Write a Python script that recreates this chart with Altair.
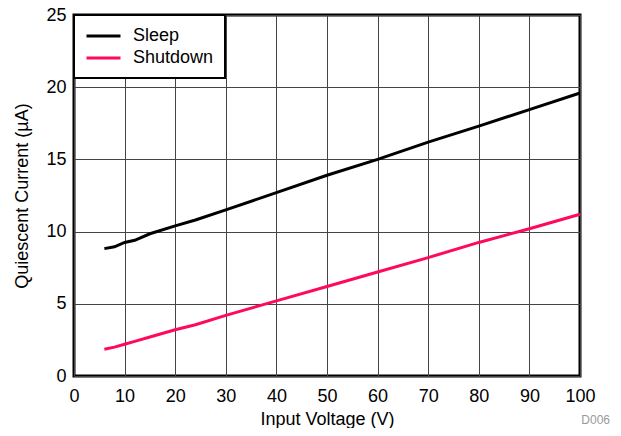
import altair as alt
import pandas as pd

volt = [6, 8, 10, 12, 15, 20, 24, 30, 40, 50, 60, 70, 80, 90, 100]
sleep = [8.82, 8.95, 9.25, 9.4, 9.85, 10.4, 10.8, 11.5, 12.7, 13.9, 15.0, 16.2, 17.3, 18.45, 19.6]
shutdown = [1.85, 2.0, 2.2, 2.4, 2.7, 3.2, 3.55, 4.2, 5.2, 6.2, 7.2, 8.2, 9.25, 10.2, 11.2]
series = ["Sleep", "Shutdown"]
colors = ["#000000", "#ff0a5a"]
x_ticks = list(range(0, 101, 10))
y_ticks = list(range(0, 26, 5))

rows = []
for v, a in zip(volt, sleep):
    rows.append({"V": v, "I": a, "Series": "Sleep"})
for v, b in zip(volt, shutdown):
    rows.append({"V": v, "I": b, "Series": "Shutdown"})
df = pd.DataFrame(rows)

FONT = "Liberation Sans"

lines = alt.Chart(df).mark_line(strokeWidth=3).encode(
    x=alt.X("V:Q", scale=alt.Scale(domain=[0, 100], nice=False),
            axis=alt.Axis(title="Input Voltage (V)", values=x_ticks,
                          labelOverlap=False, labelFlush=False,
                          labelPadding=11, titlePadding=5)),
    y=alt.Y("I:Q", scale=alt.Scale(domain=[0, 25], nice=False),
            axis=alt.Axis(title="Quiescent Current (µA)", values=y_ticks,
                          labelOverlap=False, labelFlush=False,
                          labelPadding=8, titlePadding=14)),
    color=alt.Color("Series:N", scale=alt.Scale(domain=series, range=colors),
                    sort=series,
                    legend=alt.Legend(title=None, orient="top-left", offset=0,
                                      symbolType="M-1,0H3", symbolSize=289,
                                      symbolStrokeWidth=3, labelFontSize=18,
                                      labelFont=FONT, labelColor="black",
                                      strokeColor="black", fillColor="white",
                                      padding=11, rowPadding=3, labelOffset=28)),
)

note = alt.Chart(pd.DataFrame({"t": ["D006"]})).mark_text(
    font=FONT, fontSize=12, color="#999999", align="right", baseline="bottom"
).encode(text="t:N", x=alt.value(536), y=alt.value(412))

chart = alt.layer(lines, note).properties(
    width=506, height=361,
    autosize=alt.AutoSizeParams(type="none"),
    padding={"left": 66, "top": 7, "right": 33, "bottom": 52},
).configure_view(
    stroke="black", strokeWidth=3
).configure_axis(
    grid=True, gridColor="#444444", gridWidth=1, gridOpacity=1,
    domain=False, ticks=False,
    labelFont=FONT, labelFontSize=18, labelColor="black",
    titleFont=FONT, titleFontSize=18, titleColor="black", titleFontWeight="normal",
).configure_legend(
    strokeWidth=2
)

chart.save("out.html", embed_options={"renderer": "svg", "actions": False})
